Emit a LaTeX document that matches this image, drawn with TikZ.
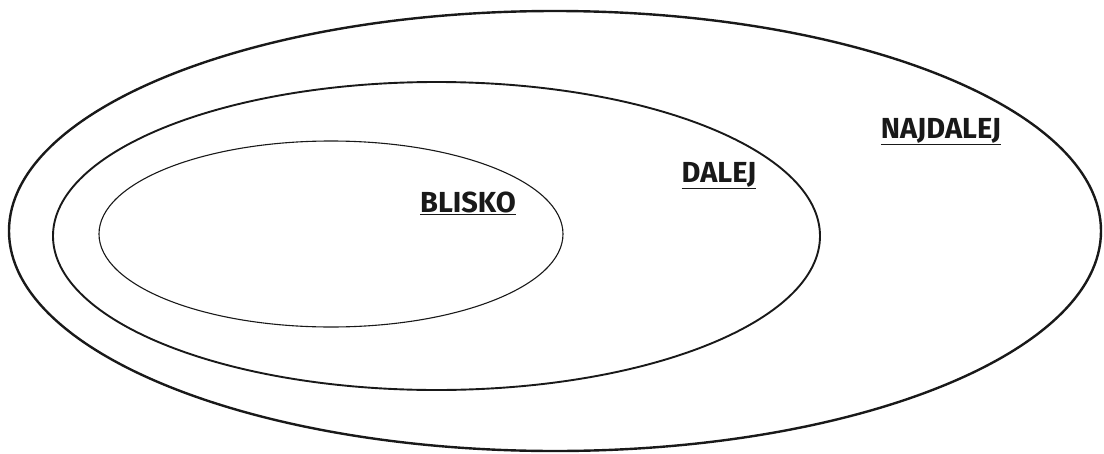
\documentclass[tikz,border=0pt]{standalone}
\usepackage{fontspec}
\setmainfont{Fira Sans}
\begin{document}
\begin{tikzpicture}[x=1pt,y=-1pt,
  ring/.style={draw=black!90},
  lbl/.style={font=\fontsize{29}{32}\selectfont\bfseries, text=black!90, anchor=base, inner sep=0pt}]
\useasboundingbox (0,0) rectangle (1104,453);
\draw[ring, line width=2.4pt] (555,231) ellipse [x radius=546, y radius=220];
\draw[ring, line width=1.9pt] (436.5,236) ellipse [x radius=383.5, y radius=154];
\draw[ring, line width=1.1pt] (331,234) ellipse [x radius=232, y radius=93];
\node[lbl] (blisko) at (468,212) {\underline{BLISKO}};
\node[lbl] (dalej) at (719,182) {\underline{DALEJ}};
\node[lbl] (najdalej) at (941,138) {\underline{NAJDALEJ}};
\end{tikzpicture}
\end{document}
